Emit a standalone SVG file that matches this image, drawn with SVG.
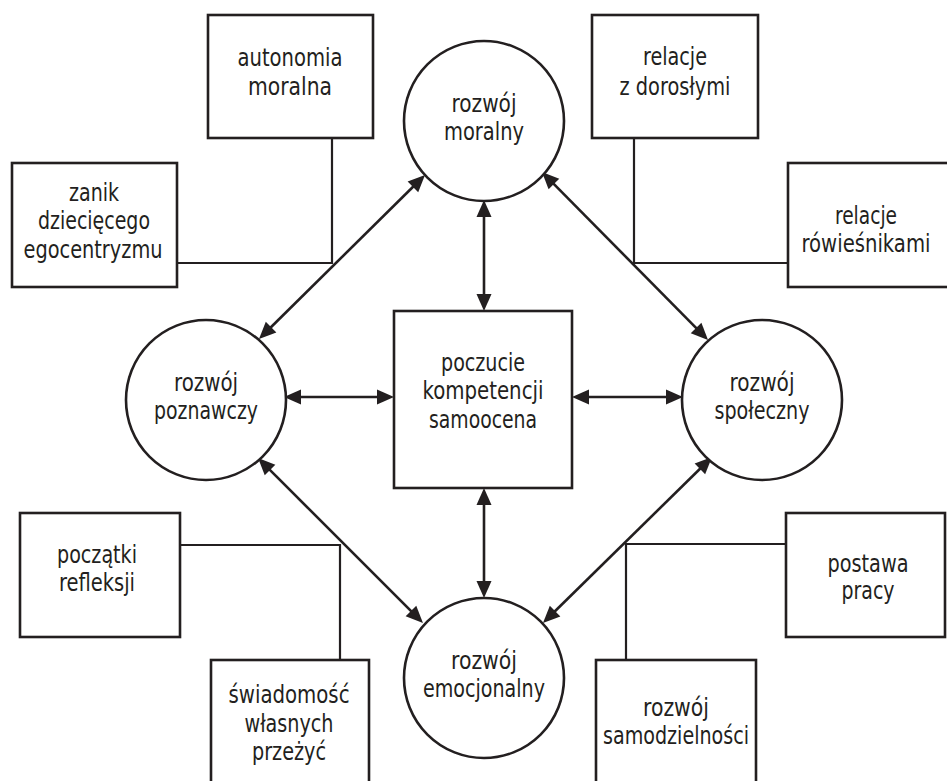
<svg xmlns="http://www.w3.org/2000/svg" width="947" height="781" viewBox="0 0 947 781">
<style>
.box{fill:#fff;stroke:#231f20;stroke-width:2.6}
.circ{fill:#fff;stroke:#231f20;stroke-width:2.6}
.t{font-family:"Liberation Sans Narrow","DejaVu Sans Condensed","Liberation Sans",sans-serif;font-size:24px;fill:#231f20;text-anchor:middle}
.arr{stroke:#231f20;stroke-width:2.6;fill:none;marker-start:url(#ah);marker-end:url(#ah)}
.con{stroke:#231f20;stroke-width:2.2;fill:none}
</style>
<defs>
<marker id="ah" markerUnits="userSpaceOnUse" markerWidth="17" markerHeight="15" refX="7" refY="7.5" orient="auto-start-reverse" overflow="visible">
<path d="M0,0 L17,7.5 L0,15 z" fill="#231f20"/>
</marker>
</defs>
<rect width="947" height="781" fill="#fff"/>
<g id="connectors">
<polyline class="con" points="177,263 332,263 332,138"/>
<polyline class="con" points="634,138 634,263 788,263"/>
<polyline class="con" points="180,545 340,545 340,660"/>
<polyline class="con" points="786,544 626,544 626,660"/>
<line class="arr" x1="417.9" y1="182" x2="266.1" y2="332"/>
<line class="arr" x1="549" y1="179.1" x2="701" y2="332.9"/>
<line class="arr" x1="265.1" y1="465.1" x2="415.9" y2="615.9"/>
<line class="arr" x1="704.9" y1="464" x2="550.1" y2="616"/>
<line class="arr" x1="484" y1="210" x2="484" y2="301"/>
<line class="arr" x1="484" y1="498" x2="484" y2="588"/>
<line class="arr" x1="294" y1="397" x2="384" y2="397"/>
<line class="arr" x1="582" y1="397" x2="673" y2="397"/>
</g>
<g id="autonomia">
<rect class="box" x="208" y="15" width="165" height="123"/>
<text class="t" x="290" y="66" textLength="105" lengthAdjust="spacingAndGlyphs">autonomia</text>
<text class="t" x="290" y="95" textLength="84" lengthAdjust="spacingAndGlyphs">moralna</text>
</g>
<g id="zanik">
<rect class="box" x="12" y="163" width="165" height="124"/>
<text class="t" x="94" y="201" textLength="50" lengthAdjust="spacingAndGlyphs">zanik</text>
<text class="t" x="94" y="229" textLength="112" lengthAdjust="spacingAndGlyphs">dziecięcego</text>
<text class="t" x="93" y="258" textLength="139" lengthAdjust="spacingAndGlyphs">egocentryzmu</text>
</g>
<g id="relacje-doroslymi">
<rect class="box" x="592" y="15" width="166" height="123"/>
<text class="t" x="675" y="65" textLength="64" lengthAdjust="spacingAndGlyphs">relacje</text>
<text class="t" x="675" y="95" textLength="111" lengthAdjust="spacingAndGlyphs">z dorosłymi</text>
</g>
<g id="relacje-rowiesnikami">
<rect class="box" x="788" y="163" width="165" height="124"/>
<text class="t" x="866" y="224" textLength="62" lengthAdjust="spacingAndGlyphs">relacje</text>
<text class="t" x="866" y="252" textLength="129" lengthAdjust="spacingAndGlyphs">rówieśnikami</text>
</g>
<g id="rozwoj-moralny">
<circle class="circ" cx="484" cy="121" r="80"/>
<text class="t" x="484" y="112" textLength="65" lengthAdjust="spacingAndGlyphs">rozwój</text>
<text class="t" x="484" y="140" textLength="80" lengthAdjust="spacingAndGlyphs">moralny</text>
</g>
<g id="rozwoj-poznawczy">
<circle class="circ" cx="206" cy="400" r="80"/>
<text class="t" x="206" y="391" textLength="64" lengthAdjust="spacingAndGlyphs">rozwój</text>
<text class="t" x="206" y="419" textLength="104" lengthAdjust="spacingAndGlyphs">poznawczy</text>
</g>
<g id="poczucie">
<rect class="box" x="394" y="311" width="178" height="177"/>
<text class="t" x="483" y="371" textLength="84" lengthAdjust="spacingAndGlyphs">poczucie</text>
<text class="t" x="483" y="399" textLength="121" lengthAdjust="spacingAndGlyphs">kompetencji</text>
<text class="t" x="483" y="428" textLength="108" lengthAdjust="spacingAndGlyphs">samoocena</text>
</g>
<g id="rozwoj-spoleczny">
<circle class="circ" cx="762" cy="400" r="80"/>
<text class="t" x="762" y="391" textLength="65" lengthAdjust="spacingAndGlyphs">rozwój</text>
<text class="t" x="762" y="419" textLength="95" lengthAdjust="spacingAndGlyphs">społeczny</text>
</g>
<g id="rozwoj-emocjonalny">
<circle class="circ" cx="484" cy="678" r="80"/>
<text class="t" x="484" y="669" textLength="66" lengthAdjust="spacingAndGlyphs">rozwój</text>
<text class="t" x="484" y="697" textLength="122" lengthAdjust="spacingAndGlyphs">emocjonalny</text>
</g>
<g id="poczatki">
<rect class="box" x="20" y="513" width="160" height="124"/>
<text class="t" x="97" y="563" textLength="80" lengthAdjust="spacingAndGlyphs">początki</text>
<text class="t" x="97" y="591" textLength="76" lengthAdjust="spacingAndGlyphs">refleksji</text>
</g>
<g id="swiadomosc">
<rect class="box" x="211" y="660" width="158" height="140"/>
<text class="t" x="289" y="703" textLength="121" lengthAdjust="spacingAndGlyphs">świadomość</text>
<text class="t" x="289" y="732" textLength="89" lengthAdjust="spacingAndGlyphs">własnych</text>
<text class="t" x="289" y="760" textLength="74" lengthAdjust="spacingAndGlyphs">przeżyć</text>
</g>
<g id="samodzielnosc">
<rect class="box" x="596" y="660" width="160" height="140"/>
<text class="t" x="676" y="716" textLength="66" lengthAdjust="spacingAndGlyphs">rozwój</text>
<text class="t" x="676" y="744" textLength="146" lengthAdjust="spacingAndGlyphs">samodzielności</text>
</g>
<g id="postawa">
<rect class="box" x="786" y="513" width="159" height="124"/>
<text class="t" x="868" y="572" textLength="81" lengthAdjust="spacingAndGlyphs">postawa</text>
<text class="t" x="868" y="599" textLength="53" lengthAdjust="spacingAndGlyphs">pracy</text>
</g>
</svg>
